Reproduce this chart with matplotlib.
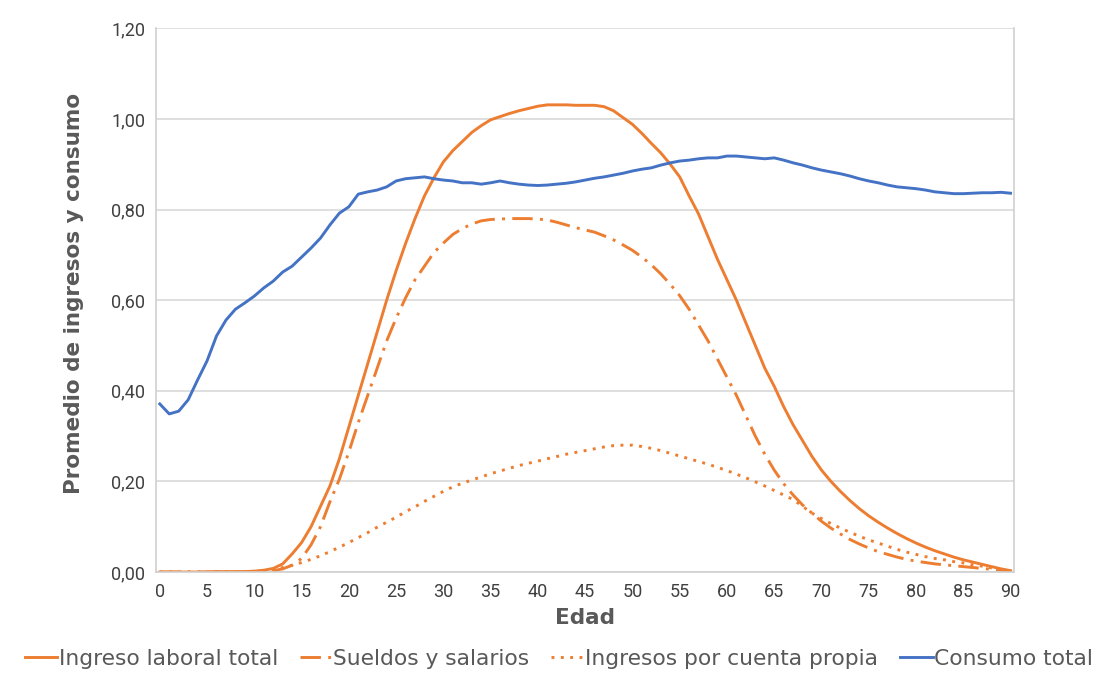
import numpy as np
import matplotlib
matplotlib.use("Agg")
from matplotlib import pyplot as plt
from matplotlib.ticker import FuncFormatter

edad = list(range(0, 91))

ingreso_laboral = [0.0, 0.0, 0.0, 0.0, 0.0, 0.0, 0.001, 0.001, 0.001, 0.001,
                   0.002, 0.004, 0.008, 0.018, 0.04, 0.065, 0.10, 0.145, 0.19, 0.25,
                   0.32, 0.39, 0.46, 0.53, 0.60, 0.665, 0.725, 0.78, 0.83, 0.87,
                   0.905, 0.93, 0.95, 0.97, 0.985, 0.998, 1.005, 1.012, 1.018, 1.023,
                   1.028, 1.031, 1.031, 1.031, 1.030, 1.030, 1.030, 1.027, 1.018, 1.003,
                   0.988, 0.968, 0.946, 0.925, 0.90, 0.872, 0.83, 0.79, 0.74, 0.69,
                   0.645, 0.60, 0.55, 0.50, 0.45, 0.41, 0.365, 0.325, 0.29, 0.255,
                   0.225, 0.20, 0.178, 0.158, 0.14, 0.124, 0.11, 0.097, 0.085, 0.074,
                   0.064, 0.055, 0.047, 0.04, 0.033, 0.027, 0.022, 0.017, 0.012, 0.007,
                   0.003]

sueldos = [0.0, 0.0, 0.0, 0.0, 0.0, 0.0, 0.0, 0.0, 0.0, 0.0,
           0.0, 0.001, 0.003, 0.007, 0.015, 0.03, 0.06, 0.10, 0.155, 0.205,
           0.265, 0.33, 0.39, 0.45, 0.51, 0.56, 0.605, 0.645, 0.675, 0.705,
           0.726, 0.745, 0.758, 0.768, 0.775, 0.778, 0.779, 0.780, 0.780, 0.780,
           0.779, 0.777, 0.772, 0.766, 0.76, 0.755, 0.75, 0.742, 0.733, 0.722,
           0.71, 0.695, 0.678, 0.658, 0.635, 0.61, 0.58, 0.545, 0.51, 0.47,
           0.43, 0.39, 0.345, 0.30, 0.26, 0.225, 0.195, 0.17, 0.148, 0.13,
           0.112, 0.097, 0.084, 0.072, 0.062, 0.053, 0.045, 0.039, 0.033, 0.028,
           0.024, 0.021, 0.018, 0.016, 0.014, 0.012, 0.01, 0.008, 0.006, 0.004,
           0.002]

cuenta_propia = [0.0, 0.0, 0.0, 0.0, 0.0, 0.0, 0.0, 0.0, 0.0, 0.0,
                 0.001, 0.002, 0.005, 0.01, 0.015, 0.021, 0.028, 0.036, 0.045, 0.055,
                 0.065, 0.076, 0.087, 0.099, 0.11, 0.121, 0.133, 0.144, 0.156, 0.167,
                 0.178, 0.188, 0.196, 0.203, 0.21, 0.217, 0.223, 0.229, 0.235, 0.24,
                 0.245, 0.25, 0.255, 0.26, 0.264, 0.268, 0.272, 0.276, 0.279, 0.28,
                 0.28, 0.277, 0.273, 0.268, 0.262, 0.256, 0.25, 0.244, 0.238, 0.231,
                 0.224, 0.216, 0.208, 0.199, 0.19, 0.18, 0.17, 0.16, 0.145, 0.13,
                 0.118, 0.107, 0.097, 0.088, 0.079, 0.071, 0.064, 0.057, 0.05, 0.044,
                 0.039, 0.034, 0.03, 0.027, 0.023, 0.02, 0.016, 0.013, 0.009, 0.005,
                 0.002]

consumo = [0.371, 0.349, 0.355, 0.38, 0.424, 0.466, 0.521, 0.556, 0.58, 0.594,
           0.609, 0.627, 0.642, 0.662, 0.675, 0.695, 0.715, 0.737, 0.766, 0.792,
           0.806, 0.834, 0.839, 0.843, 0.85, 0.863, 0.868, 0.87, 0.872, 0.868,
           0.865, 0.863, 0.859, 0.859, 0.856, 0.859, 0.863, 0.859, 0.856, 0.854,
           0.853, 0.854, 0.856, 0.858, 0.861, 0.865, 0.869, 0.872, 0.876, 0.88,
           0.885, 0.889, 0.892, 0.898, 0.903, 0.907, 0.909, 0.912, 0.914, 0.914,
           0.918, 0.918, 0.916, 0.914, 0.912, 0.914, 0.909, 0.903, 0.898, 0.892,
           0.887, 0.883, 0.879, 0.874, 0.868, 0.863, 0.859, 0.854, 0.85, 0.848,
           0.846, 0.843, 0.839, 0.837, 0.835, 0.835, 0.836, 0.837, 0.837, 0.838,
           0.836]

naranja = '#ED7D31'
azul = '#4472C4'
gris = '#595959'

fig = plt.figure(figsize=(11.02, 6.73), dpi=100)
ax = fig.add_axes([0.142, 0.150, 0.778, 0.808])

lw = 2.1
ax.plot(edad, ingreso_laboral, color=naranja, lw=lw, label='Ingreso laboral total')
ax.plot(edad, sueldos, color=naranja, lw=lw, dashes=(7, 2.5, 1, 2.5), label='Sueldos y salarios')
ax.plot(edad, cuenta_propia, color=naranja, lw=lw, dashes=(1, 2.2), label='Ingresos por cuenta propia')
ax.plot(edad, consumo, color=azul, lw=lw, label='Consumo total')

ax.set_xlim(-0.35, 90.35)
ax.set_ylim(0, 1.2)
ax.set_xticks(range(0, 91, 5))
ax.set_yticks(np.arange(0, 1.21, 0.2))
ax.yaxis.set_major_formatter(FuncFormatter(lambda v, p: f'{v:.2f}'.replace('.', ',')))
ax.grid(axis='y', color='#d9d9d9', lw=1.2)
ax.set_axisbelow(True)
ax.spines['top'].set_visible(False)
for s in ['left', 'bottom', 'right']:
    ax.spines[s].set_color('#d0d0d0')
    ax.spines[s].set_linewidth(1.2)
ax.tick_params(length=0, pad=8, colors=gris)
for lab in ax.get_xticklabels() + ax.get_yticklabels():
    lab.set_family('Roboto')
    lab.set_fontsize(13)
    lab.set_color('#404040')

ax.set_xlabel('Edad', fontsize=15.5, fontweight='bold', color=gris, family='DejaVu Sans', labelpad=5)
ax.set_ylabel('Promedio de ingresos y consumo', fontsize=15.5, fontweight='bold', color=gris,
              family='DejaVu Sans')
ax.yaxis.set_label_coords(-0.085, 0.513)

fig.legend(loc='lower center', bbox_to_anchor=(0.507, -0.023), ncol=4, frameon=False,
           prop={'family': 'DejaVu Sans', 'size': 15.7}, labelcolor=gris,
           handlelength=1.5, handletextpad=0.05, columnspacing=1.0)

fig.savefig('out.png', dpi=100)
